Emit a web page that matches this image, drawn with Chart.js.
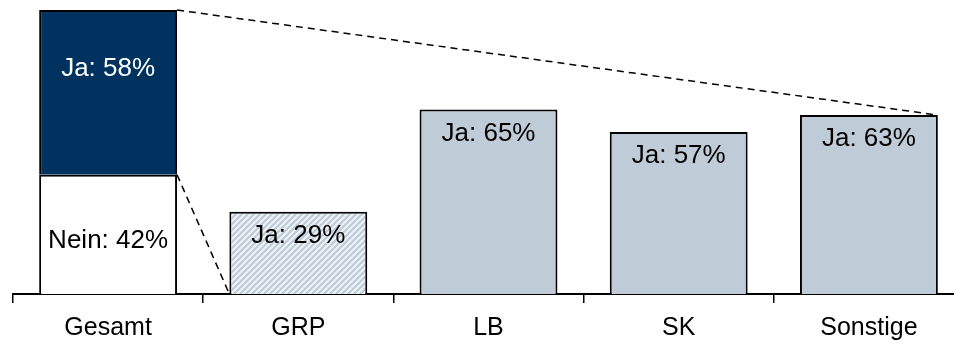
<!DOCTYPE html>
<html>
<head>
<meta charset="utf-8">
<script src="https://cdn.jsdelivr.net/npm/chart.js@4/dist/chart.umd.min.js"></script>
<style>
  html, body { margin: 0; padding: 0; background: #fff; overflow: hidden; }
  #wrap { width: 964px; height: 345px; }
</style>
</head>
<body>
<div id="wrap"><canvas id="antwortChart"></canvas></div>
<script>
const categories = ['Gesamt', 'GRP', 'LB', 'SK', 'Sonstige'];
const jaValues = [58, 29, 65, 57, 63];
const neinValues = [42, null, null, null, null];

const NAVY = '#00325f';
const GRAY = '#bfcbd7';
const FONT = 'Liberation Sans, Arial, Helvetica, sans-serif';

// light diagonal hatch for the GRP bar
function makeHatch() {
    const size = 6;
    const c = document.createElement('canvas');
    c.width = size;
    c.height = size;
    const g = c.getContext('2d');
    g.fillStyle = '#eef2f6';
    g.fillRect(0, 0, size, size);
    g.strokeStyle = '#bccad7';
    g.lineWidth = 2;
    g.beginPath();
    g.moveTo(-1, 1); g.lineTo(1, -1);
    g.moveTo(0, size); g.lineTo(size, 0);
    g.moveTo(size - 1, size + 1); g.lineTo(size + 1, size - 1);
    g.stroke();
    return g.createPattern(c, 'repeat');
}

const hatch = makeHatch();
const jaColors = [NAVY, hatch, GRAY, GRAY, GRAY];

// dashed connectors from the Gesamt bar to Sonstige and GRP
const connectorPlugin = {
    id: 'connectors',
    afterDatasetsDraw(chart) {
        const ja = chart.getDatasetMeta(1).data;
        const gesamt = ja[0];
        const grp = ja[1];
        const last = ja[ja.length - 1];
        const ctx = chart.ctx;
        ctx.save();
        ctx.strokeStyle = '#000';
        ctx.lineWidth = 1.5;
        ctx.setLineDash([7, 5]);
        ctx.beginPath();
        ctx.moveTo(gesamt.x + gesamt.width / 2, gesamt.y);
        ctx.lineTo(last.x + last.width / 2, last.y);
        ctx.moveTo(gesamt.x + gesamt.width / 2, gesamt.base);
        ctx.lineTo(grp.x - grp.width / 2, grp.base);
        ctx.stroke();
        ctx.restore();
    }
};

// "Ja: xx%" / "Nein: xx%" labels inside the bars
const labelPlugin = {
    id: 'barLabels',
    afterDatasetsDraw(chart) {
        const ctx = chart.ctx;
        ctx.save();
        ctx.font = '26px ' + FONT;
        ctx.textAlign = 'center';
        ctx.textBaseline = 'middle';

        const nein = chart.getDatasetMeta(0).data[0];
        ctx.fillStyle = '#000';
        ctx.fillText('Nein: ' + neinValues[0] + '%', nein.x, (nein.y + nein.base) / 2 + 6);

        chart.getDatasetMeta(1).data.forEach((bar, i) => {
            ctx.fillStyle = i === 0 ? '#fff' : '#000';
            const y = i === 0 ? bar.y + 59 : bar.y + 24;
            ctx.fillText('Ja: ' + jaValues[i] + '%', bar.x, y);
        });
        ctx.restore();
    }
};

new Chart(document.getElementById('antwortChart'), {
    type: 'bar',
    data: {
        labels: categories,
        datasets: [
            {
                label: 'Nein',
                data: neinValues,
                backgroundColor: '#fff',
                borderColor: '#000',
                borderWidth: 2,
                borderSkipped: 'start',
                barPercentage: 0.725,
                categoryPercentage: 1
            },
            {
                label: 'Ja',
                data: jaValues,
                backgroundColor: jaColors,
                borderColor: '#000',
                borderWidth: 2,
                borderSkipped: 'start',
                barPercentage: 0.725,
                categoryPercentage: 1
            }
        ]
    },
    options: {
        responsive: true,
        maintainAspectRatio: false,
        animation: false,
        layout: {
            padding: { left: 13, top: 10, right: 0, bottom: 0 }
        },
        plugins: {
            legend: { display: false },
            tooltip: { enabled: false }
        },
        scales: {
            x: {
                stacked: true,
                offset: true,
                grid: {
                    offset: true,
                    drawOnChartArea: false,
                    drawTicks: true,
                    tickLength: 9,
                    color: '#000',
                    lineWidth: 1.5
                },
                border: { color: '#000', width: 2 },
                ticks: {
                    color: '#000',
                    padding: 10,
                    font: { size: 25, family: FONT }
                },
                afterFit(scale) {
                    scale.height = 51;
                }
            },
            y: {
                stacked: true,
                display: false,
                min: 0,
                max: 100
            }
        }
    },
    plugins: [connectorPlugin, labelPlugin]
});
</script>
</body>
</html>
